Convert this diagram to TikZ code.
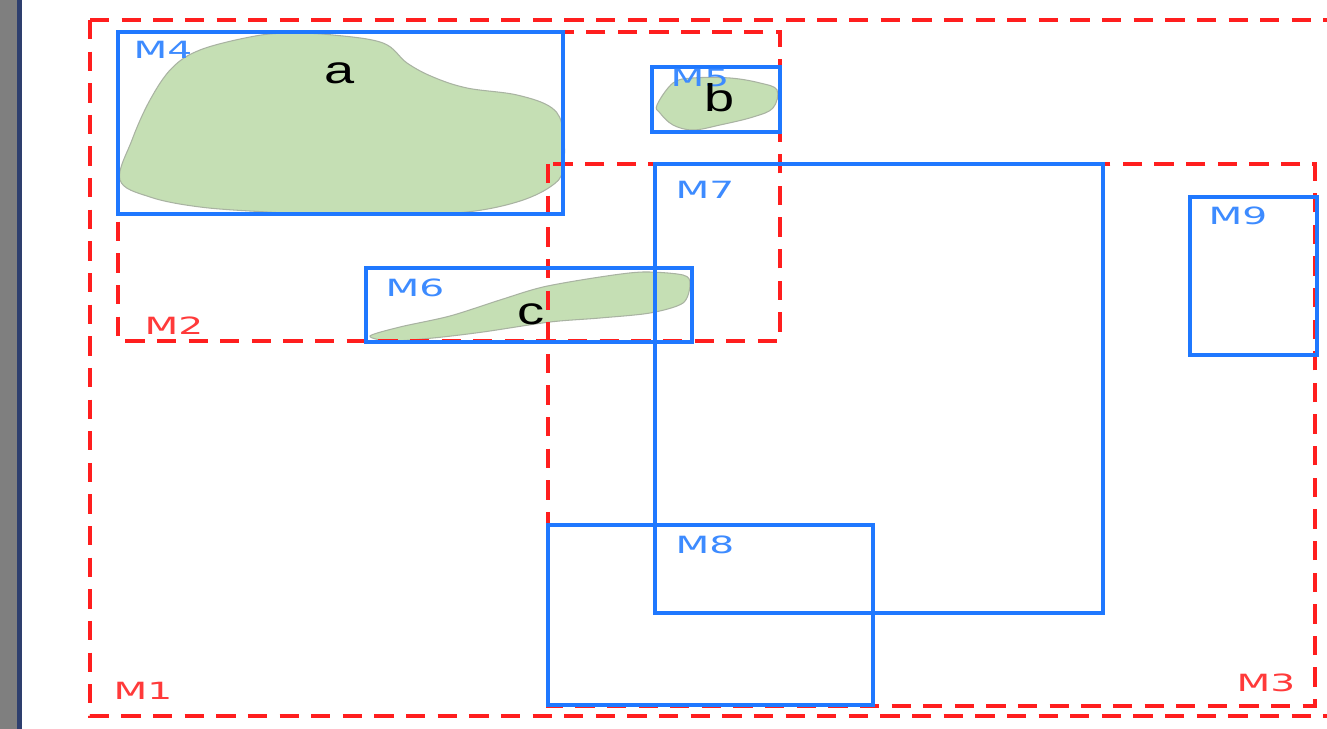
\documentclass[tikz,border=0pt]{standalone}
\usepackage{fontspec}
\usepackage{tikz}
\newfontfamily\lblfont{DejaVu Sans}
\newfontfamily\objfont{Liberation Sans}
\definecolor{RegRed}{HTML}{FF1E1E}
\definecolor{LblRed}{HTML}{FF3A3A}
\definecolor{MbrBlue}{HTML}{1F78FF}
\definecolor{LblBlue}{HTML}{3D8BFF}
\definecolor{Leaf}{HTML}{C5DFB4}
\definecolor{LeafEdge}{HTML}{A9B3A2}
\definecolor{Frame}{HTML}{7F7F7F}
\definecolor{FrameLine}{HTML}{2E3F6E}
\tikzset{
  region/.style={draw=RegRed, line width=2.2pt, dash pattern=on 11pt off 7pt},
  mbr/.style={draw=MbrBlue, line width=2.2pt},
  blob/.style={fill=Leaf, draw=LeafEdge, line width=0.6pt},
  rlabel/.style={text=LblRed, font=\lblfont\fontsize{13.5}{14}\selectfont, xscale=1.65, inner sep=0pt},
  mlabel/.style={rlabel, text=LblBlue},
  obj/.style={text=black, font=\objfont\fontsize{22}{24}\selectfont, xscale=1.4, inner sep=0pt},
}

\begin{document}
\begin{tikzpicture}[x=0.02cm, y=-0.02cm]
  \useasboundingbox (0,0) rectangle (1327,729);
  \fill[white] (0,0) rectangle (1327,729);
  % window edge on the left
  \fill[Frame] (0,0) rectangle (17,729);
  \fill[FrameLine] (17,0) rectangle (22,729);

  % objects
  \draw[blob] plot[smooth cycle, tension=0.6] coordinates {
    (120,180) (132,140) (150,100) (172,68) (200,50) (250,37) (287,33) (333,35)
    (383,43) (407,63) (433,77) (467,88) (517,95) (552,108) (563,130) (563,170)
    (550,187) (517,202) (467,212) (400,215) (333,215) (267,212) (200,207) (150,197)};
  \draw[blob] plot[smooth cycle, tension=0.6] coordinates {
    (657,105) (673,83) (693,78) (730,78) (760,83) (777,90) (773,108) (753,117)
    (720,125) (693,130) (673,125) (660,113)};
  \draw[blob] plot[smooth cycle, tension=0.5] coordinates {
    (370,336) (400,327) (450,316) (500,300) (543,287) (600,277) (643,272) (683,275)
    (690,284) (683,303) (650,313) (600,318) (550,322) (483,332) (433,338) (390,341)};

  % regions
  \draw[region] (90,20) -- (1340,20);
  \draw[region] (90,20) -- (90,716) -- (1340,716);
  \draw[region] (118,32) rectangle (780,341);
  \draw[region] (548,164) rectangle (1315,706);

  % bounding rectangles
  \draw[mbr] (118,32) rectangle (563,214);
  \draw[mbr] (652,67) rectangle (780,132);
  \draw[mbr] (366,268) rectangle (692,342);
  \draw[mbr] (655,164) rectangle (1103,613);
  \draw[mbr] (548,525) rectangle (873,705);
  \draw[mbr] (1190,197) rectangle (1317,355);

  % labels
  \node[rlabel] (m1) at (143,691) {M1};
  \node[rlabel] (m2) at (174,326) {M2};
  \node[rlabel] (m3) at (1266,683) {M3};
  \node[mlabel] (m4) at (163,50) {M4};
  \node[mlabel] (m5) at (700,78) {M5};
  \node[mlabel] (m6) at (415,288) {M6};
  \node[mlabel] (m7) at (705,190) {M7};
  \node[mlabel] (m8) at (705,545) {M8};
  \node[mlabel] (m9) at (1238,216) {M9};
  \node[obj] (oa) at (340,73) {a};
  \node[obj] (ob) at (720,98) {b};
  \node[obj] (oc) at (531,314) {c};
\end{tikzpicture}
\end{document}
